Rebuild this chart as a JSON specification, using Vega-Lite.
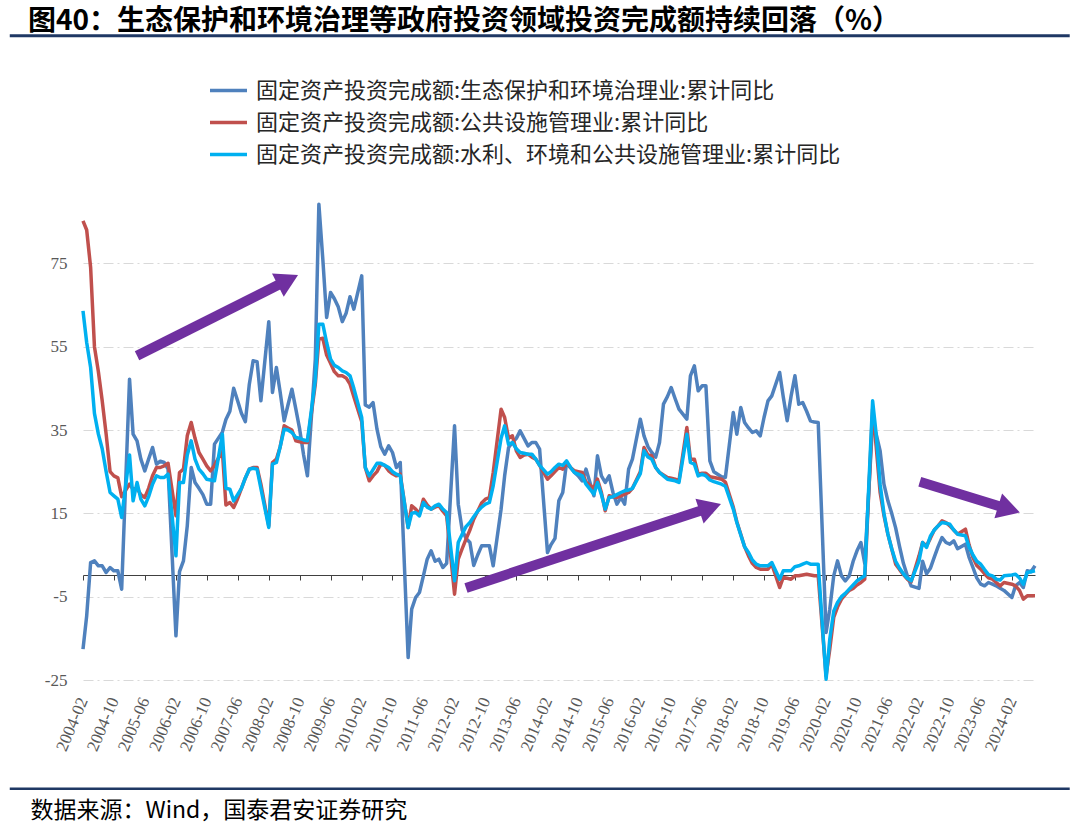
{
"$schema": "https://vega.github.io/schema/vega-lite/v6.json",
"width": 952, "height": 500,
"autosize": {"type": "none"},
"padding": {"left": 83, "top": 180, "right": 45, "bottom": 153},
"background": "white",
"title": {"text": "图40：生态保护和环境治理等政府投资领域投资完成额持续回落（%）", "anchor": "start", "frame": "group", "font": "Noto Sans CJK SC", "fontSize": 28, "fontWeight": "bold", "color": "#000000", "dx": -55, "offset": -2},
"config": {"view": {"stroke": null}, "axisX": {"labelOverlap": false, "labelSeparation": 0}},
"datasets": {
"arrows": [
{"id": 1, "x1": "2005-04-01", "y1": 52.8, "x2": "2008-07-01", "y2": 71.0},
{"id": 2, "x1": "2012-05-01", "y1": -2.9, "x2": "2017-08-04", "y2": 16.4},
{"id": 3, "x1": "2022-02-07", "y1": 22.6, "x2": "2024-01-10", "y2": 16.0}
]
},
"data": {"values": [
{"d":"2004-02","a":-17.6,"b":85.2,"c":63.6},{"d":"2004-03","a":-9.6,"b":83,"c":56},{"d":"2004-04","a":3.2,"b":74,"c":50},{"d":"2004-05","a":3.6,"b":55,"c":39},{"d":"2004-06","a":2.4,"b":49,"c":34},{"d":"2004-07","a":2.4,"b":42,"c":30.5},{"d":"2004-08","a":0.8,"b":34,"c":25},{"d":"2004-09","a":2,"b":25,"c":20},{"d":"2004-10","a":1.2,"b":24,"c":19.2},{"d":"2004-11","a":1.2,"b":23.5,"c":18.4},{"d":"2004-12","a":-3.2,"b":19,"c":14},
{"d":"2005-02","a":47.2,"b":22,"c":29},{"d":"2005-03","a":34,"b":20.8,"c":18},{"d":"2005-04","a":32.4,"b":21,"c":22.4},{"d":"2005-05","a":28,"b":19.5,"c":18.4},{"d":"2005-06","a":25.2,"b":18.8,"c":16.8},{"d":"2005-07","a":28,"b":21,"c":19},{"d":"2005-08","a":30.8,"b":24,"c":22},{"d":"2005-09","a":26.8,"b":26,"c":24},{"d":"2005-10","a":27.5,"b":26,"c":23.6},{"d":"2005-11","a":27.2,"b":26.4,"c":23.6},{"d":"2005-12","a":25.6,"b":27,"c":24.4},
{"d":"2006-02","a":-14.4,"b":14.4,"c":4.8},{"d":"2006-03","a":1,"b":24.8,"c":22.4},{"d":"2006-04","a":3.6,"b":25.6,"c":22.4},{"d":"2006-05","a":12,"b":33.6,"c":29},{"d":"2006-06","a":26,"b":36.8,"c":32.4},{"d":"2006-07","a":22.4,"b":33,"c":28},{"d":"2006-08","a":21,"b":29.6,"c":25.6},{"d":"2006-09","a":19.5,"b":28,"c":24.5},{"d":"2006-10","a":17.2,"b":26.4,"c":23.2},{"d":"2006-11","a":17.2,"b":25.2,"c":23},{"d":"2006-12","a":31.6,"b":26.5,"c":22.8},
{"d":"2007-02","a":34.5,"b":30,"c":34},{"d":"2007-03","a":37.5,"b":17,"c":21},{"d":"2007-04","a":39.5,"b":17.6,"c":20.8},{"d":"2007-05","a":45,"b":16.4,"c":18},{"d":"2007-06","a":42,"b":18.5,"c":19.5},{"d":"2007-07","a":39,"b":21,"c":21},{"d":"2007-08","a":37,"b":23.5,"c":23.5},{"d":"2007-09","a":46,"b":25.6,"c":25.6},{"d":"2007-10","a":51.6,"b":26,"c":25.8},{"d":"2007-11","a":51.4,"b":26,"c":25.6},{"d":"2007-12","a":42,"b":22,"c":21},
{"d":"2008-02","a":61,"b":12,"c":11.6},{"d":"2008-03","a":44,"b":27.2,"c":26.8},{"d":"2008-04","a":50,"b":28,"c":27.2},{"d":"2008-05","a":44,"b":31,"c":31},{"d":"2008-06","a":37.2,"b":36,"c":35.2},{"d":"2008-07","a":41,"b":35.5,"c":35},{"d":"2008-08","a":44.8,"b":35,"c":34.4},{"d":"2008-09","a":40,"b":32.4,"c":33.2},{"d":"2008-10","a":35.2,"b":32.2,"c":33},{"d":"2008-11","a":29,"b":32,"c":32.6},{"d":"2008-12","a":24,"b":32,"c":32.4},
{"d":"2009-02","a":52,"b":46,"c":47},{"d":"2009-03","a":89.2,"b":56.8,"c":60.4},{"d":"2009-04","a":76,"b":57,"c":60.4},{"d":"2009-05","a":62,"b":53,"c":56},{"d":"2009-06","a":68,"b":51,"c":52},{"d":"2009-07","a":66.5,"b":49,"c":50.5},{"d":"2009-08","a":64.5,"b":48,"c":50},{"d":"2009-09","a":61,"b":48,"c":49.2},{"d":"2009-10","a":63,"b":47.5,"c":48.8},{"d":"2009-11","a":67,"b":46,"c":48},{"d":"2009-12","a":64,"b":43,"c":45},
{"d":"2010-02","a":72,"b":37,"c":38},{"d":"2010-03","a":41,"b":26,"c":26},{"d":"2010-04","a":40.5,"b":22.8,"c":24},{"d":"2010-05","a":41.6,"b":24,"c":25.5},{"d":"2010-06","a":35.2,"b":25,"c":27},{"d":"2010-07","a":31,"b":26.8,"c":27},{"d":"2010-08","a":29.2,"b":26.5,"c":26.5},{"d":"2010-09","a":31.2,"b":25.2,"c":26},{"d":"2010-10","a":29.6,"b":24.5,"c":25},{"d":"2010-11","a":26,"b":24,"c":24.4},{"d":"2010-12","a":27.2,"b":24.4,"c":24},
{"d":"2011-02","a":-19.6,"b":11.6,"c":11.6},{"d":"2011-03","a":-8,"b":16.8,"c":15},{"d":"2011-04","a":-5.2,"b":16,"c":15.2},{"d":"2011-05","a":-4,"b":14.8,"c":14.4},{"d":"2011-06","a":0,"b":18.4,"c":17.6},{"d":"2011-07","a":4,"b":17,"c":16.5},{"d":"2011-08","a":6,"b":16,"c":16},{"d":"2011-09","a":3.5,"b":16.5,"c":16.8},{"d":"2011-10","a":4,"b":16.8,"c":17.2},{"d":"2011-11","a":2,"b":15.5,"c":16},{"d":"2011-12","a":3,"b":14.4,"c":15.2},
{"d":"2012-02","a":36,"b":-4.4,"c":-1.2},{"d":"2012-03","a":17.2,"b":4,"c":8},{"d":"2012-04","a":11,"b":6.5,"c":10},{"d":"2012-05","a":9,"b":8.8,"c":11.8},{"d":"2012-06","a":8,"b":11,"c":12.8},{"d":"2012-07","a":2.5,"b":13.6,"c":14.2},{"d":"2012-08","a":5,"b":15.5,"c":15.5},{"d":"2012-09","a":7.2,"b":17.5,"c":16.5},{"d":"2012-10","a":7.2,"b":18.4,"c":17.2},{"d":"2012-11","a":7.2,"b":18.8,"c":17.6},{"d":"2012-12","a":2.4,"b":24.8,"c":21.6},
{"d":"2013-02","a":16,"b":40,"c":33},{"d":"2013-03","a":24,"b":38,"c":36},{"d":"2013-04","a":30.8,"b":33,"c":31.5},{"d":"2013-05","a":32,"b":33.6,"c":32},{"d":"2013-06","a":33,"b":30,"c":30.5},{"d":"2013-07","a":34.8,"b":28.4,"c":29.6},{"d":"2013-08","a":33,"b":29,"c":29.4},{"d":"2013-09","a":31.2,"b":29.2,"c":29.2},{"d":"2013-10","a":32,"b":28.5,"c":29.2},{"d":"2013-11","a":32,"b":28,"c":28},{"d":"2013-12","a":30.4,"b":26.5,"c":26.5},
{"d":"2014-02","a":5.6,"b":23.2,"c":24.4},{"d":"2014-03","a":7.5,"b":24,"c":25},{"d":"2014-04","a":9,"b":25,"c":26},{"d":"2014-05","a":18,"b":26,"c":26.8},{"d":"2014-06","a":20,"b":25.6,"c":26.5},{"d":"2014-07","a":27.2,"b":27,"c":27.6},{"d":"2014-08","a":26,"b":26,"c":26},{"d":"2014-09","a":24.8,"b":25.2,"c":24.8},{"d":"2014-10","a":24,"b":25,"c":24.4},{"d":"2014-11","a":22.8,"b":24.8,"c":24},{"d":"2014-12","a":25.6,"b":22.5,"c":22},
{"d":"2015-02","a":19.2,"b":21,"c":19.6},{"d":"2015-03","a":28.8,"b":23.2,"c":22.4},{"d":"2015-04","a":24,"b":20,"c":19.5},{"d":"2015-05","a":22.4,"b":15.6,"c":16},{"d":"2015-06","a":24,"b":19.2,"c":18.8},{"d":"2015-07","a":20,"b":19,"c":19},{"d":"2015-08","a":17.2,"b":18.8,"c":19.5},{"d":"2015-09","a":18.8,"b":19.2,"c":20},{"d":"2015-10","a":17.2,"b":19.6,"c":20.4},{"d":"2015-11","a":25.6,"b":20,"c":20.6},{"d":"2015-12","a":28,"b":21,"c":21},
{"d":"2016-02","a":37.6,"b":25,"c":24.5},{"d":"2016-03","a":33.6,"b":30.8,"c":30},{"d":"2016-04","a":31,"b":29,"c":28.5},{"d":"2016-05","a":29.6,"b":28.8,"c":28},{"d":"2016-06","a":28.5,"b":26,"c":26},{"d":"2016-07","a":32,"b":24.8,"c":24.8},{"d":"2016-08","a":41.2,"b":24.2,"c":24},{"d":"2016-09","a":43,"b":23.6,"c":23.2},{"d":"2016-10","a":45.2,"b":23.4,"c":23},{"d":"2016-11","a":42.5,"b":23.2,"c":22.8},{"d":"2016-12","a":40,"b":22.8,"c":22.4},
{"d":"2017-02","a":37.6,"b":35.6,"c":34},{"d":"2017-03","a":48,"b":28,"c":27.2},{"d":"2017-04","a":50.4,"b":28,"c":26.8},{"d":"2017-05","a":44.4,"b":24.4,"c":24},{"d":"2017-06","a":45.6,"b":24.6,"c":24.4},{"d":"2017-07","a":45.6,"b":24.6,"c":24},{"d":"2017-08","a":27.6,"b":23.8,"c":23},{"d":"2017-09","a":25,"b":23.6,"c":22.6},{"d":"2017-10","a":24.4,"b":23.4,"c":22.3},{"d":"2017-11","a":23.8,"b":23.2,"c":22},{"d":"2017-12","a":23.6,"b":22.5,"c":21.5},
{"d":"2018-02","a":39.2,"b":16.5,"c":16},{"d":"2018-03","a":34,"b":13,"c":12.8},{"d":"2018-04","a":40.4,"b":10,"c":9.8},{"d":"2018-05","a":36.8,"b":7,"c":7},{"d":"2018-06","a":35.5,"b":4.8,"c":5.6},{"d":"2018-07","a":34.4,"b":3,"c":3.8},{"d":"2018-08","a":34.8,"b":2,"c":2.8},{"d":"2018-09","a":33.6,"b":1.6,"c":2.4},{"d":"2018-10","a":38,"b":1.6,"c":2.4},{"d":"2018-11","a":42,"b":1.6,"c":2.4},{"d":"2018-12","a":43.2,"b":2.8,"c":3.2},
{"d":"2019-02","a":48.8,"b":-2.8,"c":-0.8},{"d":"2019-03","a":43,"b":-0.4,"c":1.2},{"d":"2019-04","a":37.2,"b":-0.6,"c":1.2},{"d":"2019-05","a":43,"b":-0.8,"c":1.2},{"d":"2019-06","a":48,"b":0,"c":2.2},{"d":"2019-07","a":41.2,"b":0,"c":2.4},{"d":"2019-08","a":41.6,"b":0.2,"c":2.8},{"d":"2019-09","a":39.5,"b":0.4,"c":3.2},{"d":"2019-10","a":37.2,"b":0.2,"c":2.8},{"d":"2019-11","a":36.9,"b":0,"c":2.8},{"d":"2019-12","a":36.8,"b":0,"c":2.8},
{"d":"2020-02","a":-13.6,"b":-24,"c":-24.8},{"d":"2020-03","a":-8,"b":-17.6,"c":-15.2},{"d":"2020-04","a":0,"b":-10,"c":-8.5},{"d":"2020-05","a":3.6,"b":-7.5,"c":-6.4},{"d":"2020-06","a":0,"b":-5.6,"c":-5},{"d":"2020-07","a":-1.2,"b":-4.5,"c":-4.2},{"d":"2020-08","a":0,"b":-3.5,"c":-3.2},{"d":"2020-09","a":3.5,"b":-3,"c":-2.2},{"d":"2020-10","a":6,"b":-2.2,"c":-1.2},{"d":"2020-11","a":8,"b":-1.6,"c":-0.6},{"d":"2020-12","a":3,"b":-0.8,"c":0},
{"d":"2021-02","a":36.8,"b":40,"c":42},{"d":"2021-03","a":34,"b":31,"c":34},{"d":"2021-04","a":30,"b":20,"c":22},{"d":"2021-05","a":22,"b":14.5,"c":15},{"d":"2021-06","a":18,"b":10,"c":10},{"d":"2021-07","a":15,"b":6.5,"c":6.5},{"d":"2021-08","a":11.5,"b":2.8,"c":3.5},{"d":"2021-09","a":7,"b":1.5,"c":1.8},{"d":"2021-10","a":3,"b":0.3,"c":0.5},{"d":"2021-11","a":0,"b":-0.8,"c":-0.6},{"d":"2021-12","a":-2.4,"b":-1.4,"c":-1.2},
{"d":"2022-02","a":-3,"b":4.8,"c":3.6},{"d":"2022-03","a":3.5,"b":8,"c":8},{"d":"2022-04","a":0.5,"b":7.2,"c":6.8},{"d":"2022-05","a":1.8,"b":9,"c":9.5},{"d":"2022-06","a":4.5,"b":11,"c":11},{"d":"2022-07","a":7,"b":12,"c":12},{"d":"2022-08","a":9.2,"b":13.2,"c":12.8},{"d":"2022-09","a":8,"b":12.8,"c":12.6},{"d":"2022-10","a":7.6,"b":12,"c":12.4},{"d":"2022-11","a":8.4,"b":11,"c":11},{"d":"2022-12","a":6.5,"b":10,"c":10},
{"d":"2023-02","a":7.6,"b":11.2,"c":9.6},{"d":"2023-03","a":4.5,"b":7.5,"c":7},{"d":"2023-04","a":2,"b":4.4,"c":5},{"d":"2023-05","a":-0.5,"b":2.5,"c":3.5},{"d":"2023-06","a":-2,"b":1.6,"c":2.8},{"d":"2023-07","a":-2.4,"b":0.5,"c":1.5},{"d":"2023-08","a":-1.6,"b":-0.5,"c":0.3},{"d":"2023-09","a":-2,"b":-0.8,"c":0},{"d":"2023-10","a":-2.4,"b":-1.6,"c":-0.8},{"d":"2023-11","a":-3,"b":-2.4,"c":-1},{"d":"2023-12","a":-3.5,"b":-1.6,"c":0},
{"d":"2024-02","a":-5.2,"b":-2,"c":0.2},{"d":"2024-03","a":-2.4,"b":-2.4,"c":0.4},{"d":"2024-04","a":-1.6,"b":-3.5,"c":-0.5},{"d":"2024-05","a":-2.8,"b":-5.6,"c":-2},{"d":"2024-06","a":1.2,"b":-4.8,"c":0.8},{"d":"2024-07","a":1,"b":-4.8,"c":1},{"d":"2024-08","a":2.4,"b":-4.8,"c":1.2}
]},
"layer": [
{
"transform": [{"fold": ["a", "b", "c"], "as": ["k", "v"]}],
"mark": {"type": "line", "strokeWidth": 3.5, "strokeJoin": "round"},
"encoding": {
"x": {"field": "d", "type": "temporal",
"scale": {"domain": [{"year": 2004, "month": 2, "date": 1}, {"year": 2024, "month": 8, "date": 1}]},
"axis": {
"values": [{"year":2004,"month":2,"date":1},{"year":2004,"month":10,"date":1},{"year":2005,"month":6,"date":1},{"year":2006,"month":2,"date":1},{"year":2006,"month":10,"date":1},{"year":2007,"month":6,"date":1},{"year":2008,"month":2,"date":1},{"year":2008,"month":10,"date":1},{"year":2009,"month":6,"date":1},{"year":2010,"month":2,"date":1},{"year":2010,"month":10,"date":1},{"year":2011,"month":6,"date":1},{"year":2012,"month":2,"date":1},{"year":2012,"month":10,"date":1},{"year":2013,"month":6,"date":1},{"year":2014,"month":2,"date":1},{"year":2014,"month":10,"date":1},{"year":2015,"month":6,"date":1},{"year":2016,"month":2,"date":1},{"year":2016,"month":10,"date":1},{"year":2017,"month":6,"date":1},{"year":2018,"month":2,"date":1},{"year":2018,"month":10,"date":1},{"year":2019,"month":6,"date":1},{"year":2020,"month":2,"date":1},{"year":2020,"month":10,"date":1},{"year":2021,"month":6,"date":1},{"year":2022,"month":2,"date":1},{"year":2022,"month":10,"date":1},{"year":2023,"month":6,"date":1},{"year":2024,"month":2,"date":1}],
"tickCount": 100,
"format": "%Y-%m", "labelAngle": -67, "labelFont": "Liberation Serif", "labelFontSize": 17, "labelColor": "#595959",
"labelPadding": 118, "labelFlush": false, "labelOverlap": false, "labelSeparation": 0, "offset": -105, "grid": false,
"domainColor": "#404040", "domainWidth": 1, "tickColor": "#404040", "tickSize": 5, "tickWidth": 1,
"title": "数据来源：Wind，国泰君安证券研究", "titleFont": "Noto Sans CJK SC", "titleFontSize": 23, "titleFontWeight": "normal", "titleColor": "#000000",
"titleAnchor": "start", "titleAlign": "left", "titleX": -53, "titleY": 235, "titleBaseline": "middle"
}},
"y": {"field": "v", "type": "quantitative",
"scale": {"domain": [-25, 95], "nice": false, "zero": false},
"axis": {"values": [-25, -5, 15, 35, 55, 75], "title": null, "domain": false, "ticks": false,
"labelExpr": "'' + datum.value",
"labelFont": "Liberation Serif", "labelFontSize": 17, "labelColor": "#595959", "labelPadding": 16,
"grid": true, "gridColor": "#D9D9D9", "gridDash": [10, 4, 2, 4], "gridWidth": 1.2}},
"color": {"field": "k", "type": "nominal",
"scale": {"domain": ["a", "b", "c"], "range": ["#4F81BD", "#C0504D", "#00B0F0"]},
"legend": {"orient": "none", "legendX": 125, "legendY": -110, "title": null, "direction": "vertical",
"symbolType": "stroke", "symbolSize": 1369, "symbolStrokeWidth": 3.5, "rowPadding": 0, "padding": 0,
"labelFont": "Noto Sans CJK SC", "labelFontSize": 22, "labelColor": "#262626", "labelOffset": 7, "labelLimit": 900,
"labelExpr": "datum.value == 'a' ? '固定资产投资完成额:生态保护和环境治理业:累计同比' : datum.value == 'b' ? '固定资产投资完成额:公共设施管理业:累计同比' : '固定资产投资完成额:水利、环境和公共设施管理业:累计同比'"}}
}
},
{
"data": {"name": "arrows"},
"mark": {"type": "rule", "color": "#7030A0", "strokeWidth": 10},
"encoding": {
"x": {"field": "x1", "type": "temporal"},
"x2": {"field": "x2"},
"y": {"field": "y1", "type": "quantitative"},
"y2": {"field": "y2"}
}
},
{
"data": {"name": "arrows"},
"transform": [{"filter": "datum.id == 1"}],
"mark": {"type": "point", "shape": "triangle-right", "filled": true, "color": "#7030A0", "opacity": 1, "size": 680, "angle": 333.3},
"encoding": {"x": {"field": "x2", "type": "temporal"}, "y": {"field": "y2", "type": "quantitative"}}
},
{
"data": {"name": "arrows"},
"transform": [{"filter": "datum.id == 2"}],
"mark": {"type": "point", "shape": "triangle-right", "filled": true, "color": "#7030A0", "opacity": 1, "size": 680, "angle": 341.8},
"encoding": {"x": {"field": "x2", "type": "temporal"}, "y": {"field": "y2", "type": "quantitative"}}
},
{
"data": {"name": "arrows"},
"transform": [{"filter": "datum.id == 3"}],
"mark": {"type": "point", "shape": "triangle-right", "filled": true, "color": "#7030A0", "opacity": 1, "size": 680, "angle": 17.1},
"encoding": {"x": {"field": "x2", "type": "temporal"}, "y": {"field": "y2", "type": "quantitative"}}
},
{
"data": {"values": [{}]},
"mark": {"type": "rule", "color": "#1F3864", "strokeWidth": 3},
"encoding": {
"x": {"datum": {"year": 2002, "month": 7, "date": 5}, "type": "temporal"},
"x2": {"datum": {"year": 2025, "month": 5, "date": 1}},
"y": {"datum": 129.6, "type": "quantitative"}
}
},
{
"data": {"values": [{}]},
"mark": {"type": "rule", "color": "#1F3864", "strokeWidth": 2.5},
"encoding": {
"x": {"datum": {"year": 2002, "month": 7, "date": 5}, "type": "temporal"},
"x2": {"datum": {"year": 2025, "month": 5, "date": 1}},
"y": {"datum": -51.1, "type": "quantitative"}
}
}
]
}
